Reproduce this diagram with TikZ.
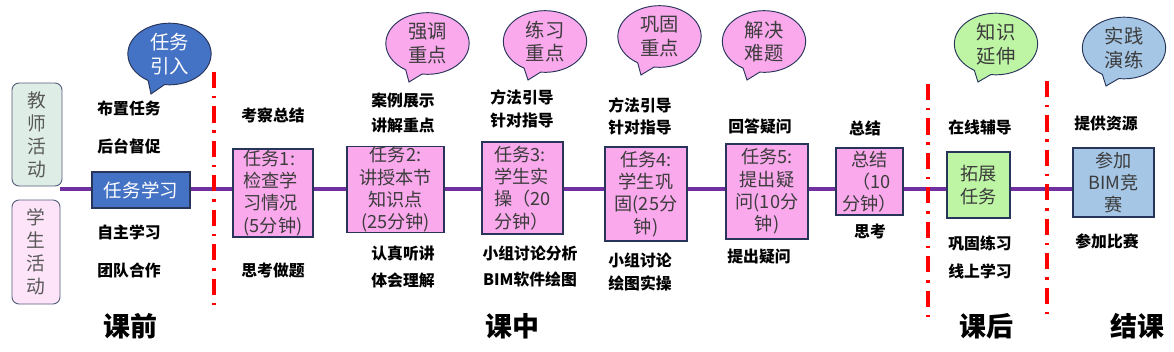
\documentclass[tikz,border=0pt]{standalone}
\usepackage{fontspec}
\setmainfont{Noto Sans CJK SC}
\usepackage{tikz}
\usetikzlibrary{
  shapes.callouts,
  positioning,
  backgrounds
}
\definecolor{lnpurple}{RGB}{112,48,160}
\definecolor{bxpink}{RGB}{249,169,236}
\definecolor{bxblue}{RGB}{68,114,196}
\definecolor{bxgreen}{RGB}{189,245,164}
\definecolor{bxsky}{RGB}{165,198,229}
\definecolor{bxnavy}{RGB}{40,52,90}
\definecolor{bxmint}{RGB}{222,238,230}
\definecolor{bxrose}{RGB}{253,228,248}
\definecolor{txgray}{RGB}{60,60,60}
\definecolor{divred}{RGB}{255,0,0}

\begin{document}
\begin{tikzpicture}[
  x=0.03cm, y=-0.03cm,
  task/.style={draw=bxnavy, line width=1pt, fill=bxpink, inner sep=0pt, text=txgray,
    font=\fontsize{15.5pt}{19pt}\selectfont},
  bubble/.style={ellipse callout, draw=bxnavy, line width=0.8pt, fill=bxpink, inner sep=0pt,
    minimum width=2.5cm, minimum height=1.85cm, callout pointer arc=24, text=txgray,
    align=center, font=\fontsize{16.5pt}{20pt}\selectfont},
  side/.style={draw=bxnavy!80, line width=0.8pt, rounded corners=6pt, text=txgray!85,
    align=center, font=\fontsize{16pt}{19.6pt}\selectfont},
  lbl/.style={font=\fontsize{13.5pt}{16pt}\selectfont\bfseries},
  stage/.style={font=\fontsize{23pt}{26pt}\selectfont\bfseries},
  divider/.style={divred, line width=3pt,
    dash pattern=on 13.7pt off 6.8pt on 2.1pt off 6.8pt},
  mainline/.style={lnpurple, line width=3.4pt}
]
  \useasboundingbox (0,0) rectangle (1174,351);

  % left side
  \node[side, fill=bxmint, minimum width=1.5cm, minimum height=3.09cm] (teacher) at (37,134.5) {教\\师\\活\\动};
  \node[side, fill=bxrose, minimum width=1.44cm, minimum height=3.12cm] (student) at (36,252) {学\\生\\活\\动};
  \coordinate (start) at (60,189);

  % boxes on the line
  \node[task, fill=bxblue, text=white, font=\fontsize{15.8pt}{19pt}\selectfont,
    minimum width=2.94cm, minimum height=1.08cm] (xuexi) at (141,190) {任务学习};
  \node[task, align=left, minimum width=2.4cm, minimum height=2.64cm] (t1) at (273,193) {任务1:\\检查学\\习情况\\(5分钟)};
  \node[task, align=center, minimum width=2.91cm, minimum height=2.55cm] (t2) at (395.5,189.5) {任务2:\\讲授本节\\知识点\\(25分钟)};
  \node[task, align=left, minimum width=2.43cm, minimum height=2.76cm] (t3) at (522.5,188) {任务3:\\学生实\\操（20\\分钟）};
  \node[task, align=center, minimum width=2.46cm, minimum height=2.82cm] (t4) at (646,194) {任务4:\\学生巩\\固(25分\\钟)};
  \node[task, align=center, minimum width=2.46cm, minimum height=2.85cm] (t5) at (767,191.5) {任务5:\\提出疑\\问(10分\\钟)};
  \node[task, align=center, minimum width=2.01cm, minimum height=2.01cm] (zongjie) at (869.5,181.5) {总结\\\ （10\\分钟）};
  \node[task, fill=bxgreen, align=center, minimum width=1.89cm, minimum height=1.98cm] (tuozhan) at (978.5,185) {拓展\\任务};
  \node[task, fill=bxsky, align=center, minimum width=2.43cm, minimum height=2.07cm] (bim) at (1113.5,182.5) {参加\\BIM竞\\赛};

  \begin{pgfonlayer}{background}
    \draw[mainline] (start) -- (start -| bim.west);
  \end{pgfonlayer}

  % speech bubbles
  \node[bubble, fill=bxblue, text=white, callout absolute pointer={(151,94)}] (yinru) at (169.5,54) {任务\\引入};
  \node[bubble, callout absolute pointer={(409,82)}] (qiangdiao) at (427.5,43.5) {强调\\重点};
  \node[bubble, callout absolute pointer={(528,80)}] (lianxi) at (545,41.5) {练习\\重点};
  \node[bubble, callout absolute pointer={(641,75)}] (gonggu) at (659.5,36.5) {巩固\\重点};
  \node[bubble, callout absolute pointer={(747,80)}] (jiejue) at (764,41.5) {解决\\难题};
  \node[bubble, fill=bxgreen, callout absolute pointer={(978,82)}] (yanshen) at (996,44) {知识\\延伸};
  \node[bubble, fill=bxsky, callout absolute pointer={(1106,86)}] (yanlian) at (1124,48) {实践\\演练};

  % activity labels
  \foreach \tx/\cx/\cy [count=\i] in {
    布置任务/129/108, 后台督促/129/146, 自主学习/129/232, 团队合作/129/270,
    考察总结/273/115, 思考做题/273/270,
    案例展示/403/100, 讲解重点/403/125, 认真听讲/403/254, 体会理解/403/280,
    方法引导/522/97, 针对指导/522/121, 小组讨论分析/530/253, BIM软件绘图/530/279,
    方法引导/640/105, 针对指导/640/128, 小组讨论/640/260, 绘图实操/640/283,
    回答疑问/760/126, 提出疑问/759/257, 总结/865/128, 思考/870/231,
    在线辅导/980/127, 巩固练习/980/243, 线上学习/980/271,
    提供资源/1106/124, 参加比赛/1107/241} {
    \node[lbl] (lb\i) at (\cx,\cy) {\tx};
  }

  % stages
  \node[stage] (kqian) at (130,326) {课前};
  \node[stage] (kzhong) at (512,326) {课中};
  \node[stage] (khou) at (986,326) {课后};
  \node[stage] (jieke) at (1137,326) {结课};

  \draw[divider] (214,72) -- (214,312);
  \draw[divider] (928,84) -- (928,323);
  \draw[divider] (1047,81) -- (1047,320);
\end{tikzpicture}
\end{document}
